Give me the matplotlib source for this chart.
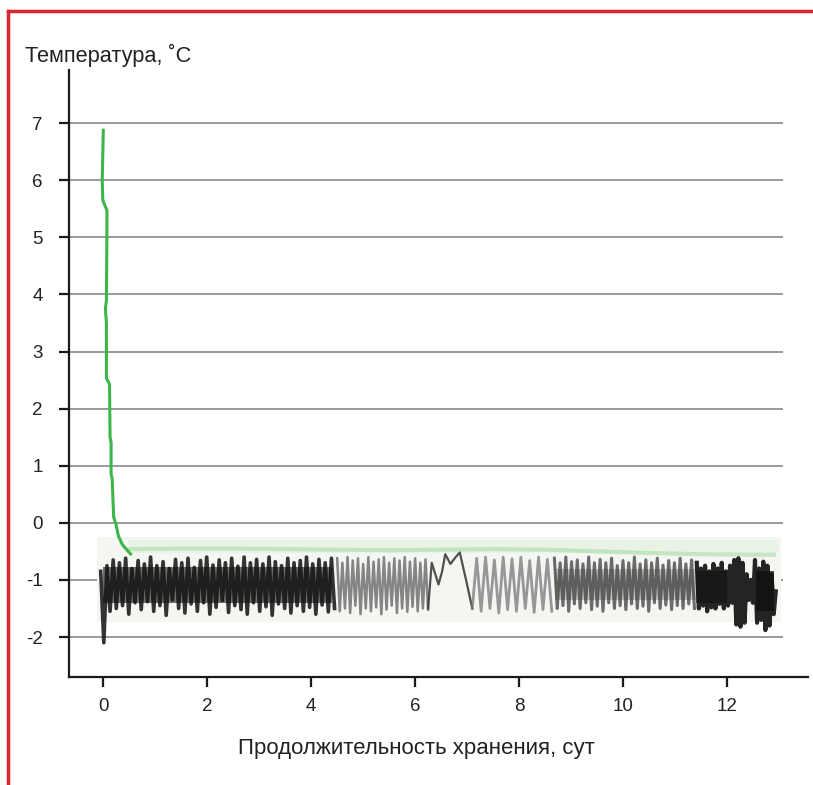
import numpy as np
import matplotlib
matplotlib.use("Agg")
import matplotlib.pyplot as plt
from matplotlib.lines import Line2D

plt.rcParams['font.family'] = ['Liberation Sans', 'DejaVu Sans']

# ---- data ----
x_ticks = [0, 2, 4, 6, 8, 10, 12]
y_ticks = [-2, -1, 0, 1, 2, 3, 4, 5, 6, 7]

# cooling curve (green)
green_t = [0.0, -0.02, -0.01, 0.07, 0.07, 0.06, 0.04, 0.06, 0.06, 0.12, 0.13, 0.15,
           0.15, 0.17, 0.2, 0.25, 0.29, 0.36, 0.42, 0.53]
green_v = [6.88, 6.0, 5.65, 5.47, 5.2, 3.89, 3.75, 3.5, 2.53, 2.43, 1.5, 1.4,
           0.86, 0.77, 0.1, -0.05, -0.23, -0.37, -0.44, -0.55]

# faint green storage trace near the top of the band
green2_t = [0.5, 1.5, 2.5, 3.5, 4.5, 5.5, 6.5, 7.5, 8.5, 9.5, 10.5, 11.5, 12.5, 12.9]
green2_v = [-0.46, -0.45, -0.45, -0.46, -0.47, -0.48, -0.47, -0.46, -0.47, -0.5, -0.53, -0.55, -0.56, -0.56]

# recorder trace (black), segments: start, step between extremes, values
segA_start, segA_step = -0.05, 0.06
segA_vals = [-0.85, -2.1, -0.75, -1.55, -0.65, -1.5, -0.7, -1.45, -0.62, -1.6, -0.8, -1.4,
             -0.66, -1.52, -0.72, -1.38, -0.6, -1.55, -0.75, -1.45, -0.68, -1.62, -0.8, -1.35,
             -0.64, -1.5, -0.7, -1.58, -0.62, -1.42, -0.78, -1.55, -0.66, -1.4, -0.6, -1.6,
             -0.74, -1.48, -0.65, -1.36, -0.7, -1.57, -0.62, -1.45, -0.76, -1.52, -0.6, -1.6,
             -0.7, -1.4, -0.64, -1.55, -0.72, -1.47, -0.6, -1.62, -0.68, -1.42, -0.75, -1.5,
             -0.62, -1.58, -0.7, -1.45, -0.66, -1.55, -0.6, -1.48, -0.72, -1.6, -0.64, -1.44,
             -0.7, -1.56, -0.62, -1.5]
segB_start, segB_step = 4.5, 0.05
segB_vals = [-0.62, -1.55, -0.7, -1.5, -0.6, -1.58, -0.66, -1.45, -0.62, -1.6, -0.72, -1.5,
             -0.6, -1.55, -0.68, -1.48, -0.64, -1.6, -0.6, -1.52, -0.7, -1.45, -0.62, -1.58,
             -0.66, -1.5, -0.6, -1.56, -0.68, -1.47, -0.62, -1.55, -0.7, -1.5, -0.64, -1.52]
segC_t = [6.25, 6.32, 6.45, 6.52, 6.58, 6.68, 6.78, 6.86, 6.98, 7.1]
segC_v = [-1.5, -0.7, -1.08, -0.85, -0.55, -0.72, -0.6, -0.52, -1.0, -1.5]
segD_start, segD_step = 7.1, 0.085
segD_vals = [-1.5, -0.62, -1.55, -0.6, -1.5, -0.65, -1.58, -0.6, -1.52, -0.63, -1.55, -0.6,
             -1.5, -0.66, -1.57, -0.6, -1.52, -0.64, -1.55]
segE_start, segE_step = 8.68, 0.055
segE_vals = [-0.62, -1.5, -0.7, -1.45, -0.6, -1.55, -0.68, -1.42, -0.65, -1.5, -0.72, -1.4,
             -0.6, -1.52, -0.7, -1.46, -0.64, -1.55, -0.7, -1.4, -0.62, -1.5, -0.75, -1.45,
             -0.66, -1.52, -0.7, -1.42, -0.6, -1.5, -0.72, -1.46, -0.65, -1.55, -0.7, -1.4,
             -0.62, -1.5, -0.74, -1.44, -0.66, -1.52, -0.7, -1.45, -0.62, -1.5, -0.72, -1.42,
             -0.65, -1.5]
segF_start, segF_step = 11.42, 0.04
segF_vals = [-0.7, -1.5, -0.8, -1.45, -0.75, -1.55, -0.85, -1.48, -0.72, -1.5, -0.8, -1.42,
             -0.7, -1.5, -0.85, -1.45, -0.75, -1.4, -0.65, -1.78, -0.62, -1.82, -0.7, -1.75,
             -0.9, -1.35, -1.0, -1.4, -0.65, -1.75, -0.8, -1.7, -0.68, -1.88, -0.75, -1.8,
             -0.9, -1.6, -1.2]

# dark cores of the trace (x range, lower, upper, opacity)
core_x = [[0.0, 4.4], [8.7, 11.4], [11.4, 12.0], [12.55, 12.9]]
core_lo = [-1.4, -1.35, -1.4, -1.55]
core_hi = [-0.78, -0.8, -0.85, -0.85]
core_alpha = [0.55, 0.2, 0.5, 0.7]

# ---- figure ----
W, H = 813, 785
fig = plt.figure(figsize=(W / 100, H / 100), dpi=100)
ax = fig.add_axes([69 / W, 1 - 677 / H, (808 - 69) / W, (677 - 70) / H])
xmin, xmax = -0.66, 13.56
ymin, ymax = -2.70, 7.93
ax.set_xlim(xmin, xmax)
ax.set_ylim(ymin, ymax)

# grid lines
ax.hlines(y_ticks, xmin, 13.07, colors='#7f7f7f', linewidth=1.1, zorder=1)

# recorder chart background (covers grid line inside)
ax.fill_between([-0.13, 13.04], -1.73, -0.25, color='#f4f6f2', zorder=1.2, linewidth=0)
ax.fill_between([0.5, 13.0], -0.52, -0.3, color='#e6f3e2', zorder=1.3, linewidth=0, alpha=0.8)
ax.plot(green2_t, green2_v, color='#9ad69a', linewidth=3, alpha=0.5, zorder=2)

for cx, lo, hi, a in zip(core_x, core_lo, core_hi, core_alpha):
    ax.fill_between(cx, lo, hi, color='black', alpha=a, linewidth=0, zorder=2)

def seg(start, step, vals):
    t = start + step * np.arange(len(vals))
    return t, vals

tA, vA = seg(segA_start, segA_step, segA_vals)
tB, vB = seg(segB_start, segB_step, segB_vals)
tD, vD = seg(segD_start, segD_step, segD_vals)
tE, vE = seg(segE_start, segE_step, segE_vals)
tF, vF = seg(segF_start, segF_step, segF_vals)

ax.plot(tA, vA, color='#111111', linewidth=2.6, alpha=0.85, zorder=3)
ax.plot(tB, vB, color='#555555', linewidth=1.8, alpha=0.7, zorder=3)
ax.plot(segC_t, segC_v, color='#333333', linewidth=1.6, alpha=0.85, zorder=3)
ax.plot(tD, vD, color='#777777', linewidth=2.0, alpha=0.75, zorder=3)
ax.plot(tE, vE, color='#3c3c3c', linewidth=2.2, alpha=0.75, zorder=3)
ax.plot(tF, vF, color='#0d0d0d', linewidth=3.0, alpha=0.9, zorder=3)

# green cooling curve
ax.plot(green_t, green_v, color='#3cb54a', linewidth=2.2, zorder=4,
        solid_capstyle='round', solid_joinstyle='round')

# spines and ticks
for s in ['top', 'right']:
    ax.spines[s].set_visible(False)
for s in ['left', 'bottom']:
    ax.spines[s].set_linewidth(1.6)
    ax.spines[s].set_color('#1a1a1a')
ax.set_xticks(x_ticks)
ax.set_yticks(y_ticks)
ax.set_xticklabels([str(v) for v in x_ticks])
ax.set_yticklabels([str(v) for v in y_ticks])
ax.tick_params(axis='both', direction='out', length=7, width=1.6, color='#1a1a1a',
               labelsize=13.5, labelcolor='#222222')
ax.tick_params(axis='y', pad=12)
ax.tick_params(axis='x', pad=8)

fig.text(25 / W, 1 - 62 / H, 'Температура, ˚C', fontsize=15.7, color='#222222',
         ha='left', va='baseline')
fig.text(416 / W, 1 - 754 / H, 'Продолжительность хранения, сут', fontsize=16,
         color='#222222', ha='center', va='baseline')

# red frame
fig.add_artist(Line2D([8 / W, 1.0], [1 - 11 / H, 1 - 11 / H], color='#d8262f',
                      linewidth=2.5, transform=fig.transFigure))
fig.add_artist(Line2D([8 / W, 8 / W], [1 - 11 / H, 0.0], color='#d8262f',
                      linewidth=2.5, transform=fig.transFigure))

fig.savefig('out.png', dpi=100)
